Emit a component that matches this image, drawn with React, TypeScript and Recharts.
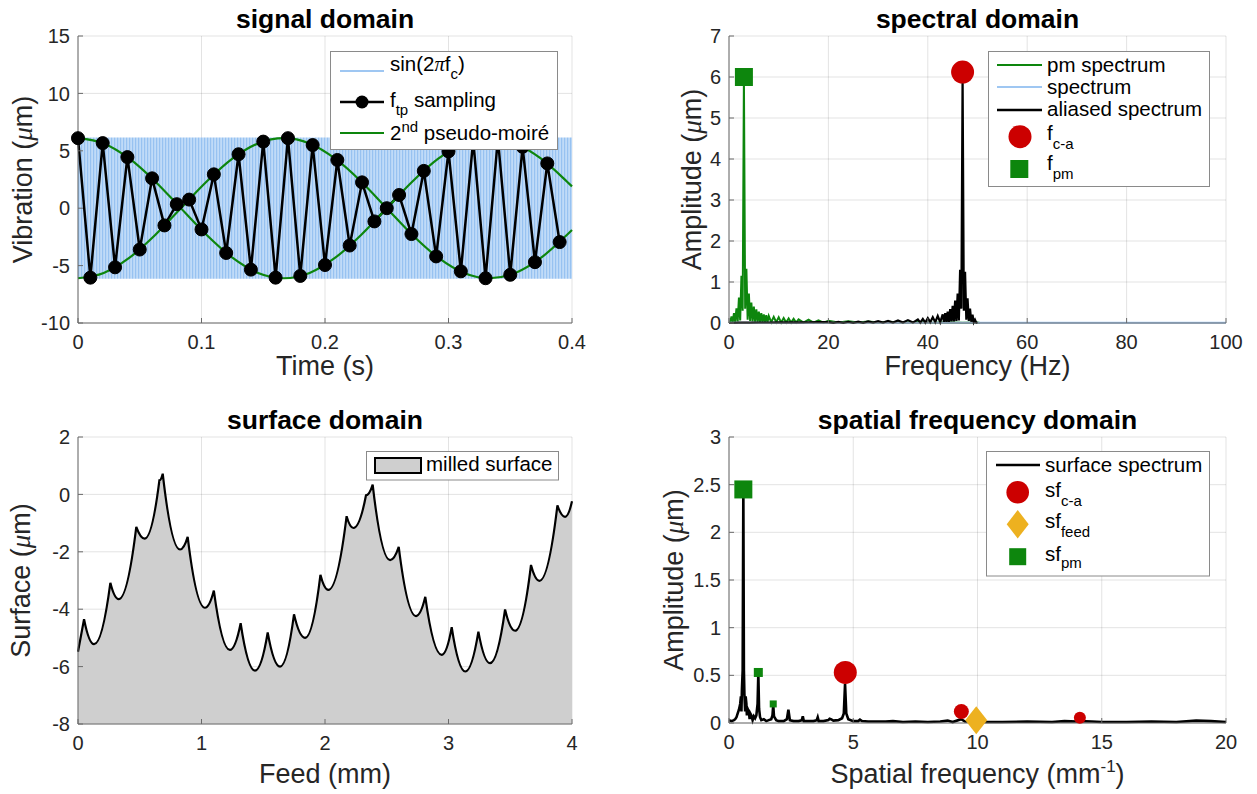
import React from 'react';
import { ComposedChart, Line, Area, Scatter, XAxis, YAxis, CartesianGrid } from 'recharts';

// ---------------- DATA ----------------
// signal domain
const SAMPLE_TIMES = [0, 0.01, 0.02, 0.03, 0.04, 0.05, 0.06, 0.07, 0.08, 0.09, 0.1, 0.11, 0.12, 0.13, 0.14, 0.15, 0.16, 0.17, 0.18, 0.19, 0.2, 0.21, 0.22, 0.23, 0.24, 0.25, 0.26, 0.27, 0.28, 0.29, 0.3, 0.31, 0.32, 0.33, 0.34, 0.35, 0.36, 0.37, 0.38, 0.39];
const SAMPLE_VALUES = [6.1, -6.05, 5.67, -5.15, 4.45, -3.6, 2.6, -1.5, 0.35, 0.75, -1.85, 2.95, -3.9, 4.7, -5.35, 5.8, -6.05, 6.1, -5.9, 5.5, -4.95, 4.2, -3.25, 2.25, -1.15, 0.0, 1.15, -2.25, 3.25, -4.2, 4.95, -5.5, 5.9, -6.1, 6.05, -5.8, 5.35, -4.7, 3.9, -2.95];
const MOIRE_TIMES = [0, 0.0208, 0.0417, 0.0625, 0.0833, 0.1042, 0.125, 0.1458, 0.1667, 0.1875, 0.2083, 0.2292, 0.25, 0.2708, 0.2917, 0.3125, 0.3333, 0.3542, 0.375, 0.3958, 0.4];
const MOIRE_HIGH = [6.1, 5.64, 4.31, 2.33, 0, -2.33, -4.31, -5.64, -6.1, -5.64, -4.31, -2.33, 0, 2.33, 4.31, 5.64, 6.1, 5.64, 4.31, 2.33, 1.9];
const MOIRE_LOW = [-6.1, -5.64, -4.31, -2.33, 0, 2.33, 4.31, 5.64, 6.1, 5.64, 4.31, 2.33, 0, -2.33, -4.31, -5.64, -6.1, -5.64, -4.31, -2.33, -1.9];
const CARRIER_TIMES = [0, 0.4];
const CARRIER_LOW = [-6.15, -6.15];
const CARRIER_HIGH = [6.15, 6.15];
const SIGNAL_X_TICKS = [0, 0.1, 0.2, 0.3, 0.4];
const SIGNAL_Y_TICKS = [-10, -5, 0, 5, 10, 15];

// spectral domain  [frequency Hz, amplitude um]
const PM_SPECTRUM: [number, number][] = [
  [0, 0], [0.25, 0.02], [0.5, 0.16], [0.75, 0.02], [1, 0.24], [1.25, 0.03], [1.5, 0.36], [1.75, 0.04],
  [2, 0.62], [2.25, 0.06], [2.5, 1.15], [2.75, 0.3], [3, 6.0], [3.25, 0.35], [3.5, 1.32], [3.75, 0.08],
  [4, 0.72], [4.25, 0.05], [4.5, 0.5], [4.75, 0.04], [5, 0.4], [5.25, 0.03], [5.5, 0.33], [5.75, 0.03],
  [6, 0.28], [6.25, 0.02], [6.5, 0.24], [6.75, 0.02], [7, 0.21], [7.25, 0.02], [7.5, 0.19], [7.75, 0.02],
  [8, 0.17], [8.5, 0.02], [9, 0.15], [9.5, 0.02], [10, 0.14], [10.5, 0.01], [11, 0.12], [11.5, 0.01],
  [12, 0.11], [12.5, 0.01], [13, 0.1], [13.5, 0.01], [14, 0.09], [15, 0.01], [16, 0.08], [17, 0.01],
  [18, 0.065], [19, 0.01], [20, 0.055], [22, 0.01], [24, 0.045], [26, 0.01], [28, 0.035], [30, 0.01],
  [32, 0.03], [35, 0.01], [38, 0.025], [41, 0.005], [44, 0.02], [47, 0.005], [50, 0.01], [50.5, 0],
];
const CARRIER_SPECTRUM: [number, number][] = [[0, 0.005], [100, 0.005]];
const ALIASED_SPECTRUM: [number, number][] = [
  [0, 0], [2, 0.01], [4, 0.01], [6, 0.012], [8, 0.012], [10, 0.014], [12, 0.015], [14, 0.016], [16, 0.018], [18, 0.019],
  [20, 0.02], [21, 0.005], [22, 0.025], [23, 0.005], [24, 0.03], [25, 0.005], [26, 0.035], [27, 0.005], [28, 0.04], [29, 0.01],
  [30, 0.045], [31, 0.01], [32, 0.05], [33, 0.01], [34, 0.06], [35, 0.01], [36, 0.07], [37, 0.01], [38, 0.085], [38.5, 0.01],
  [39, 0.1], [39.5, 0.01], [40, 0.12], [40.5, 0.02], [41, 0.14], [41.5, 0.02], [42, 0.17], [42.5, 0.02], [43, 0.21], [43.25, 0.03],
  [43.5, 0.24], [43.75, 0.03], [44, 0.28], [44.25, 0.03], [44.5, 0.34], [44.75, 0.04], [45, 0.42], [45.25, 0.04], [45.5, 0.55], [45.75, 0.05],
  [46, 0.72], [46.25, 0.06], [46.5, 1.3], [46.75, 0.35], [47, 6.1], [47.25, 0.3], [47.5, 1.25], [47.75, 0.08], [48, 0.6], [48.25, 0.05],
  [48.5, 0.35], [48.75, 0.03], [49, 0.2], [49.25, 0.02], [49.5, 0.08], [49.75, 0.01], [50, 0],
];
const F_CA: [number, number][] = [[47, 6.12]];
const F_PM: [number, number][] = [[3, 6.0]];
const SPECTRAL_X_TICKS = [0, 20, 40, 60, 80, 100];
const SPECTRAL_Y_TICKS = [0, 1, 2, 3, 4, 5, 6, 7];

// surface domain [feed mm, surface um]
const MILLED_SURFACE: [number, number][] = [
  [0, -5.48], [0.049, -4.35], [0.13, -5.22], [0.262, -3.08], [0.329, -3.65], [0.472, -1.13], [0.54, -1.54],
  [0.659, 0.49], [0.686, 0.72], [0.826, -1.92], [0.888, -1.48], [1.028, -3.95], [1.1, -3.35], [1.23, -5.42],
  [1.317, -4.49], [1.433, -6.14], [1.536, -4.81], [1.636, -6.0], [1.749, -4.18], [1.838, -5.0], [1.963, -2.8],
  [2.027, -3.33], [2.175, -0.76], [2.23, -1.17], [2.332, -0.03], [2.386, 0.34], [2.527, -2.29], [2.597, -1.83],
  [2.737, -4.24], [2.812, -3.57], [2.945, -5.59], [3.026, -4.63], [3.136, -6.17], [3.242, -4.78], [3.336, -5.88],
  [3.458, -4.01], [3.539, -4.75], [3.668, -2.46], [3.736, -3.01], [3.882, -0.38], [3.944, -0.78], [4.0, -0.24],
];
const SURFACE_X_TICKS = [0, 1, 2, 3, 4];
const SURFACE_Y_TICKS = [-8, -6, -4, -2, 0, 2];

// spatial frequency domain [mm^-1, um]
const SURFACE_SPECTRUM: [number, number][] = [
  [0, 0.03], [0.1, 0.02], [0.2, 0.03], [0.25, 0.04], [0.3, 0.06], [0.35, 0.1], [0.4, 0.14], [0.45, 0.2], [0.48, 0.28],
  [0.5, 0.12], [0.52, 0.35], [0.55, 0.55], [0.577, 2.45], [0.6, 0.55], [0.62, 0.3], [0.65, 0.12], [0.67, 0.28], [0.7, 0.2],
  [0.72, 0.08], [0.75, 0.15], [0.8, 0.12], [0.83, 0.04], [0.86, 0.1], [0.9, 0.08], [0.95, 0.03], [1.0, 0.07], [1.05, 0.05],
  [1.1, 0.08], [1.15, 0.2], [1.18, 0.52], [1.21, 0.15], [1.25, 0.06], [1.3, 0.03], [1.4, 0.04], [1.5, 0.02], [1.6, 0.03],
  [1.7, 0.04], [1.75, 0.08], [1.78, 0.19], [1.81, 0.07], [1.9, 0.03], [2.0, 0.02], [2.2, 0.02], [2.33, 0.04], [2.39, 0.14],
  [2.45, 0.03], [2.6, 0.02], [2.8, 0.02], [2.93, 0.03], [2.97, 0.07], [3.01, 0.02], [3.2, 0.02], [3.4, 0.02], [3.53, 0.03],
  [3.57, 0.06], [3.61, 0.02], [3.8, 0.02], [4.0, 0.03], [4.05, 0.045], [4.1, 0.04], [4.2, 0.025], [4.4, 0.03], [4.55, 0.05],
  [4.62, 0.1], [4.67, 0.41], [4.72, 0.1], [4.8, 0.04], [5.0, 0.02], [5.2, 0.02], [5.27, 0.035], [5.35, 0.02], [5.6, 0.015],
  [6.0, 0.015], [6.3, 0.015], [6.6, 0.02], [7.0, 0.01], [7.5, 0.015], [8.0, 0.01], [8.5, 0.015], [8.8, 0.025], [9.0, 0.01],
  [9.34, 0.04], [9.5, 0.015], [10.0, 0.01], [11, 0.01], [12, 0.015], [13, 0.01], [13.5, 0.02], [14.0, 0.015], [14.1, 0.02],
  [14.6, 0.015], [15, 0.01], [16, 0.01], [17, 0.015], [18, 0.01], [18.8, 0.025], [19.4, 0.02], [20, 0.01],
];
const SF_CA: [number, number][] = [[4.68, 0.53], [9.35, 0.12], [14.12, 0.055]];
const SF_FEED: [number, number][] = [[9.95, 0.03]];
const SF_PM: [number, number][] = [[0.577, 2.45], [1.18, 0.53], [1.78, 0.2]];
const SPATIAL_X_TICKS = [0, 5, 10, 15, 20];
const SPATIAL_Y_TICKS = [0, 0.5, 1, 1.5, 2, 2.5, 3];

// ---------------- STYLE ----------------
const FONT = '"Liberation Sans", Arial, Helvetica, sans-serif';
const SERIF = '"Liberation Serif", "DejaVu Serif", serif';
const GREEN = '#0d860d';
const RED = '#cc0000';
const GOLD = '#edb120';
const LIGHT_BLUE = '#9fc7f2';
const AXIS = '#6a6a6a';
const TEXT = '#262626';
const SF_CA_RADII = [11.5, 7.5, 6];
const SF_PM_SIDES = [18, 9, 7];

const pairs = (arr: [number, number][]) => arr.map(([x, y]) => ({ x, y }));
const zip = (xs: number[], ys: number[]) => xs.map((x, i) => ({ x, y: ys[i] }));

// scallop curve: each arc is a parabola whose vertex is the lower end of the segment
function scallopCurve(context: any) {
  let line = NaN;
  let pt = 0;
  let x0 = 0;
  let y0 = 0;
  return {
    areaStart() { line = 0; },
    areaEnd() { line = NaN; },
    lineStart() { pt = 0; },
    lineEnd() {
      if (line || (line !== 0 && pt === 1)) context.closePath();
      line = 1 - line;
    },
    point(xv: number, yv: number) {
      const x = +xv;
      const y = +yv;
      if (pt === 0) {
        pt = 1;
        if (line) context.lineTo(x, y); else context.moveTo(x, y);
      } else if (pt === 1) {
        pt = 2;
        context.lineTo(x, y);
      } else {
        context.quadraticCurveTo((x0 + x) / 2, Math.max(y0, y), x, y);
      }
      x0 = x;
      y0 = y;
    },
  };
}

const tickStyle = { fontSize: 20, fill: TEXT, fontFamily: FONT };

function axesFor(xDomain: number[], xTicks: number[], yDomain: number[], yTicks: number[], xLabel: any, yLabel: any) {
  return [
    <XAxis key="xb" xAxisId={0} dataKey="x" type="number" domain={xDomain} ticks={xTicks} interval={0}
      tick={tickStyle} tickSize={-5} tickMargin={17} tickLine={{ stroke: AXIS }} axisLine={{ stroke: AXIS }}
      height={60} label={xLabel} />,
    <YAxis key="yl" yAxisId={0} dataKey="y" type="number" domain={yDomain} ticks={yTicks} interval={0}
      tick={tickStyle} tickSize={-5} tickMargin={13} tickLine={{ stroke: AXIS }} axisLine={{ stroke: AXIS }}
      width={70} label={yLabel} />,
    <XAxis key="xt" xAxisId="top" orientation="top" type="number" domain={xDomain} ticks={xTicks} interval={0}
      tick={false} tickSize={-5} tickLine={{ stroke: AXIS }} axisLine={{ stroke: AXIS }} height={0} />,
    <YAxis key="yr" yAxisId="right" orientation="right" type="number" domain={yDomain} ticks={yTicks} interval={0}
      tick={false} tickSize={-5} tickLine={{ stroke: AXIS }} axisLine={{ stroke: AXIS }} width={0} />,
  ];
}

const xLabel = (content: React.ReactNode, dy: number) => (props: any) => {
  const vb = props.viewBox || {};
  return (
    <text x={vb.x + vb.width / 2} y={vb.y + dy} textAnchor="middle" fontSize={27} fill={TEXT} fontFamily={FONT}>
      {content}
    </text>
  );
};

const yLabel = (word: string, cx: number) => (props: any) => {
  const vb = props.viewBox || {};
  const cy = vb.y + vb.height / 2;
  return (
    <text x={cx} y={cy} transform={`rotate(-90 ${cx} ${cy})`} textAnchor="middle" dominantBaseline="central"
      fontSize={27} fill={TEXT} fontFamily={FONT}>
      {word} (<tspan fontFamily={SERIF} fontStyle="italic">μ</tspan>m)
    </text>
  );
};

const circleShape = (r: number, fill: string) => (p: any) => <circle cx={p.cx} cy={p.cy} r={r} fill={fill} />;
const squareShape = (s: number, fill: string) => (p: any) => (
  <rect x={p.cx - s / 2} y={p.cy - s / 2} width={s} height={s} fill={fill} />
);
const diamondShape = (w: number, h: number, fill: string) => (p: any) => (
  <polygon points={`${p.cx},${p.cy - h / 2} ${p.cx + w / 2},${p.cy} ${p.cx},${p.cy + h / 2} ${p.cx - w / 2},${p.cy}`} fill={fill} />
);

const grid = <CartesianGrid stroke="#262626" strokeOpacity={0.13} />;

function SignalChart() {
  const band = CARRIER_TIMES.map((x, i) => ({ x, lo: CARRIER_LOW[i], hi: CARRIER_HIGH[i] }));
  return (
    <ComposedChart width={630} height={397} margin={{ top: 36, right: 58, bottom: 14, left: 8 }}>
      {grid}
      {axesFor([0, 0.4], SIGNAL_X_TICKS, [-10, 15], SIGNAL_Y_TICKS, xLabel('Time (s)', 52), yLabel('Vibration', 23))}
      <Area data={band} dataKey={(d: any) => [d.lo, d.hi]} type="linear" stroke="none" fill="url(#carrierStripes)"
        fillOpacity={1} isAnimationActive={false} />
      <Line data={zip(SAMPLE_TIMES, SAMPLE_VALUES)} dataKey="y" type="linear" stroke="#000" strokeWidth={2.5}
        dot={{ r: 6.5, fill: '#000', stroke: '#000', strokeWidth: 1 }} activeDot={false} isAnimationActive={false} />
      <Line data={zip(MOIRE_TIMES, MOIRE_HIGH)} dataKey="y" type="monotone" stroke={GREEN} strokeWidth={2.2}
        dot={false} activeDot={false} isAnimationActive={false} />
      <Line data={zip(MOIRE_TIMES, MOIRE_LOW)} dataKey="y" type="monotone" stroke={GREEN} strokeWidth={2.2}
        dot={false} activeDot={false} isAnimationActive={false} />
    </ComposedChart>
  );
}

function SpectralChart() {
  return (
    <ComposedChart width={627} height={397} margin={{ top: 36, right: 31, bottom: 14, left: 29 }}>
      {grid}
      {axesFor([0, 100], SPECTRAL_X_TICKS, [0, 7], SPECTRAL_Y_TICKS, xLabel('Frequency (Hz)', 52), yLabel('Amplitude', 62))}
      <Line data={pairs(PM_SPECTRUM)} dataKey="y" type="linear" stroke={GREEN} strokeWidth={2}
        dot={false} activeDot={false} isAnimationActive={false} />
      <Line data={pairs(CARRIER_SPECTRUM)} dataKey="y" type="linear" stroke={LIGHT_BLUE} strokeWidth={2}
        dot={false} activeDot={false} isAnimationActive={false} />
      <Line data={pairs(ALIASED_SPECTRUM)} dataKey="y" type="linear" stroke="#000" strokeWidth={2.2}
        dot={false} activeDot={false} isAnimationActive={false} />
      <Scatter data={pairs(F_CA)} shape={circleShape(11.5, RED)} isAnimationActive={false} />
      <Scatter data={pairs(F_PM)} shape={squareShape(18, GREEN)} isAnimationActive={false} />
    </ComposedChart>
  );
}

function SurfaceChart() {
  return (
    <ComposedChart width={630} height={397} margin={{ top: 40, right: 58, bottom: 10, left: 8 }}>
      {axesFor([0, 4], SURFACE_X_TICKS, [-8, 2], SURFACE_Y_TICKS, xLabel('Feed (mm)', 59), yLabel('Surface', 21))}
      <Area data={pairs(MILLED_SURFACE)} dataKey="y" baseValue={-8} type={scallopCurve as any}
        stroke="#000" strokeWidth={2.2} fill="#cfcfcf" fillOpacity={1} isAnimationActive={false} />
      {grid}
    </ComposedChart>
  );
}

function SpatialChart() {
  const sfLabel = (
    <>
      Spatial frequency (mm<tspan dy={-11} fontSize={17}>-1</tspan><tspan dy={11}>)</tspan>
    </>
  );
  return (
    <ComposedChart width={627} height={397} margin={{ top: 40, right: 31, bottom: 11, left: 29 }}>
      {grid}
      {axesFor([0, 20], SPATIAL_X_TICKS, [0, 3], SPATIAL_Y_TICKS, xLabel(sfLabel, 60), yLabel('Amplitude', 44))}
      <Line data={pairs(SURFACE_SPECTRUM)} dataKey="y" type="linear" stroke="#000" strokeWidth={2.6}
        dot={false} activeDot={false} isAnimationActive={false} />
      {SF_CA.map((p, i) => (
        <Scatter key={`ca${i}`} data={pairs([p])} shape={circleShape(SF_CA_RADII[i], RED)} isAnimationActive={false} />
      ))}
      <Scatter data={pairs(SF_FEED)} shape={diamondShape(22, 28, GOLD)} isAnimationActive={false} />
      {SF_PM.map((p, i) => (
        <Scatter key={`pm${i}`} data={pairs([p])} shape={squareShape(SF_PM_SIDES[i], GREEN)} isAnimationActive={false} />
      ))}
    </ComposedChart>
  );
}

function Overlay() {
  const t = { fontFamily: FONT, fontSize: 20.5, fill: '#000' };
  const title = { fontFamily: FONT, fontSize: 26.5, fontWeight: 700, fill: '#000', textAnchor: 'middle' as const };
  const box = { fill: '#fff', stroke: '#8a8a8a', strokeWidth: 1 };
  return (
    <svg width={1257} height={794} style={{ position: 'absolute', left: 0, top: 0, pointerEvents: 'none' }}>
      <text x={325} y={28} {...title}>signal domain</text>
      <text x={977.5} y={28} {...title}>spectral domain</text>
      <text x={325} y={429} {...title}>surface domain</text>
      <text x={977.5} y={429} {...title}>spatial frequency domain</text>

      {/* signal legend */}
      <rect x={330.5} y={51.5} width={227} height={98} {...box} />
      <line x1={340} x2={384} y1={71} y2={71} stroke={LIGHT_BLUE} strokeWidth={2} />
      <text x={390} y={71} {...t}>sin(2<tspan fontFamily={SERIF} fontStyle="italic">π</tspan>f<tspan dy={8} fontSize={15}>c</tspan><tspan dy={-8}>)</tspan></text>
      <line x1={340} x2={384} y1={102} y2={102} stroke="#000" strokeWidth={2.5} />
      <circle cx={362} cy={102} r={6.5} fill="#000" />
      <text x={390} y={106.5} {...t}>f<tspan dy={8} fontSize={15}>tp</tspan><tspan dy={-8}> sampling</tspan></text>
      <line x1={340} x2={384} y1={133} y2={133} stroke={GREEN} strokeWidth={2} />
      <text x={390} y={140} {...t}>2<tspan dy={-8} fontSize={15}>nd</tspan><tspan dy={8}> pseudo-moiré</tspan></text>

      {/* spectral legend */}
      <rect x={988.5} y={51.5} width={221} height={135} {...box} />
      <line x1={997} x2={1042} y1={65} y2={65} stroke={GREEN} strokeWidth={2} />
      <text x={1047} y={71.5} {...t}>pm spectrum</text>
      <line x1={997} x2={1042} y1={87} y2={87} stroke={LIGHT_BLUE} strokeWidth={2} />
      <text x={1047} y={94} {...t}>spectrum</text>
      <line x1={997} x2={1042} y1={110} y2={110} stroke="#000" strokeWidth={2.5} />
      <text x={1047} y={116} {...t}>aliased spectrum</text>
      <circle cx={1020} cy={136.7} r={11.5} fill={RED} />
      <text x={1047} y={140} {...t}>f<tspan dy={9} fontSize={15}>c-a</tspan></text>
      <rect x={1010.3} y={160} width={18} height={18} fill={GREEN} />
      <text x={1047} y={170} {...t}>f<tspan dy={8.5} fontSize={15}>pm</tspan></text>

      {/* surface legend */}
      <rect x={366.5} y={451.5} width={192} height={28.5} {...box} />
      <rect x={375} y={458} width={46} height={15} fill="#cfcfcf" stroke="#000" strokeWidth={2} />
      <text x={426} y={471} {...t}>milled surface</text>

      {/* spatial legend */}
      <rect x={986.5} y={451.5} width={223} height={124.5} {...box} />
      <line x1={996} x2={1040} y1={465} y2={465} stroke="#000" strokeWidth={2.5} />
      <text x={1045} y={471.5} {...t}>surface spectrum</text>
      <circle cx={1017.7} cy={492.3} r={11.3} fill={RED} />
      <text x={1045} y={496.7} {...t}>sf<tspan dy={9} fontSize={15}>c-a</tspan></text>
      <polygon points="1017.7,510 1028.7,524.3 1017.7,538.6 1006.7,524.3" fill={GOLD} />
      <text x={1045} y={528} {...t}>sf<tspan dy={8.5} fontSize={15}>feed</tspan></text>
      <rect x={1009.2} y={548.2} width={17} height={17} fill={GREEN} />
      <text x={1045} y={560.7} {...t}>sf<tspan dy={7.5} fontSize={15}>pm</tspan></text>
    </svg>
  );
}

export default function App() {
  return (
    <div style={{ position: 'absolute', left: 0, top: 0, width: 1257, height: 794, background: '#fff', fontFamily: FONT }}>
      <svg width={0} height={0} style={{ position: 'absolute' }}>
        <defs>
          <pattern id="carrierStripes" patternUnits="userSpaceOnUse" width={3} height={10}>
            <rect x={0} y={0} width={3} height={10} fill="#c0dbf8" />
            <rect x={0} y={0} width={1.2} height={10} fill="#97c2f1" />
          </pattern>
        </defs>
      </svg>
      <div style={{ position: 'absolute', left: 0, top: 0 }}><SignalChart /></div>
      <div style={{ position: 'absolute', left: 630, top: 0 }}><SpectralChart /></div>
      <div style={{ position: 'absolute', left: 0, top: 397 }}><SurfaceChart /></div>
      <div style={{ position: 'absolute', left: 630, top: 397 }}><SpatialChart /></div>
      <Overlay />
    </div>
  );
}
